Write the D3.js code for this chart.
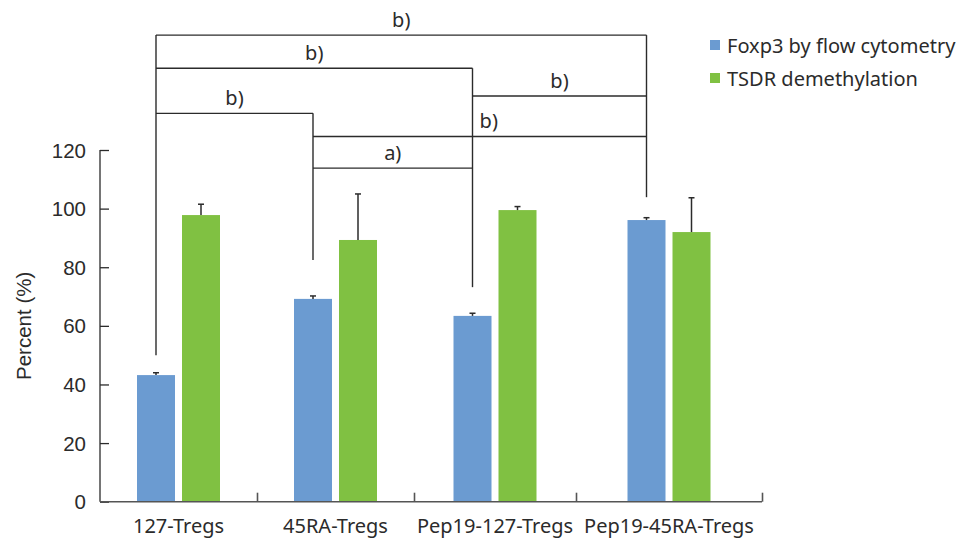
<!DOCTYPE html>
<html>
<head>
<meta charset="utf-8">
<script src="https://cdn.jsdelivr.net/npm/d3@7"></script>
<style>
  html, body { margin: 0; padding: 0; background: #fff; }
  svg { display: block; }
</style>
</head>
<body>
<svg id="chart" width="973" height="539"></svg>
<script>
// Groups of regulatory T cells
const categories = ["127-Tregs", "45RA-Tregs", "Pep19-127-Tregs", "Pep19-45RA-Tregs"];
const seriesNames = ["Foxp3 by flow cytometry", "TSDR demethylation"];

// Means and upper error (SD) per group, percent
const foxp3 = [43.2, 69.2, 63.4, 96.1];
const foxp3Err = [0.8, 1.0, 0.9, 0.8];
const tsdr = [97.8, 89.3, 99.5, 92.0];
const tsdrErr = [3.7, 15.7, 1.2, 11.7];

const yTicks = [0, 20, 40, 60, 80, 100, 120];

// Significance comparisons between Foxp3 bars (group indices), bracket height in %
const bracketFrom = [0, 0, 2, 0, 1, 1];
const bracketTo = [3, 2, 3, 1, 3, 2];
const bracketLevel = [159.2, 147.9, 138.4, 132.5, 124.6, 113.8];
const bracketLabel = ["b)", "b)", "b)", "b)", "b)", "a)"];
// Lower end of the drop line above each group's Foxp3 bar, in %
const dropEnd = [50.0, 82.5, 73.2, 103.9];

const colors = ["#6b9bd1", "#80c142"];
const ink = "#2b2b2b";
const sans = "Noto Sans, sans-serif";
const arial = "Liberation Sans, Arial, sans-serif";

const svg = d3.select("#chart");

const y = d3.scaleLinear().domain([0, 120]).range([501.7, 150]);
// Category slots along the x axis (slot edges at integer positions)
const x = d3.scaleLinear().domain([0, 1, 2, 3, 4]).range([100, 257, 414, 576, 762]);
const barW = 38, innerGap = 7;
const cx = i => x(i + 0.5);
const barX = (i, s) => s === 0 ? cx(i) - innerGap / 2 - barW : cx(i) + innerGap / 2;
const fox = i => barX(i, 0) + barW / 2;

// Bars
const series = [
  { vals: foxp3, errs: foxp3Err },
  { vals: tsdr, errs: tsdrErr }
];
series.forEach((s, si) => {
  const g = svg.append("g");
  g.selectAll("rect").data(s.vals).join("rect")
    .attr("x", (d, i) => barX(i, si))
    .attr("y", d => y(d))
    .attr("width", barW)
    .attr("height", d => y(0) - y(d))
    .attr("fill", colors[si]);
  // upper error bars
  const eb = svg.append("g").attr("stroke", ink).attr("stroke-width", 1.5);
  s.vals.forEach((v, i) => {
    const xc = barX(i, si) + barW / 2;
    eb.append("line").attr("x1", xc).attr("x2", xc).attr("y1", y(v)).attr("y2", y(v + s.errs[i]));
    eb.append("line").attr("x1", xc - 3).attr("x2", xc + 3).attr("y1", y(v + s.errs[i])).attr("y2", y(v + s.errs[i]));
  });
});

// Y axis with inward ticks
const yAxis = svg.append("g").attr("transform", "translate(100,0)")
  .call(d3.axisRight(y).tickValues(yTicks).tickSize(9).tickFormat(""));
yAxis.select(".domain").attr("stroke", ink).attr("stroke-width", 1.3).attr("d", `M0,${y(120)}V${y(0)}`);
yAxis.selectAll(".tick line").attr("stroke", ink).attr("stroke-width", 1.3);
svg.append("g").selectAll("text").data(yTicks).join("text")
  .attr("x", 86).attr("y", d => y(d))
  .attr("text-anchor", "end").attr("dominant-baseline", "central")
  .attr("font-family", arial).attr("font-size", 20.5)
  .attr("fill", ink).text(d => d);

svg.append("text")
  .attr("transform", `translate(23,${(y(0) + y(120)) / 2}) rotate(-90)`)
  .attr("text-anchor", "middle").attr("dominant-baseline", "central")
  .attr("font-family", arial).attr("font-size", 20.5)
  .attr("fill", ink).text("Percent (%)");

// X axis with upward ticks at slot edges
const xAxis = svg.append("g").attr("transform", `translate(0,${y(0)})`)
  .call(d3.axisTop(x).tickValues([1, 2, 3, 4]).tickSize(9).tickFormat(""));
xAxis.select(".domain").attr("stroke", "#555").attr("stroke-width", 1.6).attr("d", `M${x(0)},0H${x(4)}`);
xAxis.selectAll(".tick line").attr("stroke", "#555").attr("stroke-width", 1.6);
svg.append("g").selectAll("text").data(categories).join("text")
  .attr("x", (d, i) => cx(i)).attr("y", 533)
  .attr("text-anchor", "middle")
  .attr("font-family", sans).attr("font-size", 20)
  .attr("fill", ink).text(d => d);

// Significance brackets
const br = svg.append("g").attr("stroke", ink).attr("stroke-width", 1.4).attr("fill", "none");
const topLevel = dropEnd.map((d, i) => {
  let m = -Infinity;
  bracketLevel.forEach((l, k) => { if (bracketFrom[k] === i || bracketTo[k] === i) m = Math.max(m, l); });
  return m;
});
dropEnd.forEach((d, i) => {
  br.append("line").attr("x1", fox(i)).attr("x2", fox(i)).attr("y1", y(topLevel[i])).attr("y2", y(d));
});
const labelNudge = [0, 0, 0, 0, 9, 0];
bracketLevel.forEach((l, k) => {
  const x1 = fox(bracketFrom[k]), x2 = fox(bracketTo[k]);
  br.append("line").attr("x1", x1).attr("x2", x2).attr("y1", y(l)).attr("y2", y(l));
  svg.append("text")
    .attr("x", (x1 + x2) / 2 + labelNudge[k]).attr("y", y(l) - 16)
    .attr("text-anchor", "middle").attr("dominant-baseline", "central")
    .attr("font-family", sans).attr("font-size", 20)
    .attr("fill", ink).text(bracketLabel[k]);
});

// Legend
const lg = svg.append("g");
seriesNames.forEach((n, i) => {
  const cy = 45 + i * 33;
  lg.append("rect").attr("x", 710).attr("y", cy - 5).attr("width", 10).attr("height", 10).attr("fill", colors[i]);
  lg.append("text").attr("x", 727).attr("y", cy)
    .attr("dominant-baseline", "central")
    .attr("font-family", sans).attr("font-size", 20)
    .attr("fill", ink).text(n);
});
</script>
</body>
</html>
